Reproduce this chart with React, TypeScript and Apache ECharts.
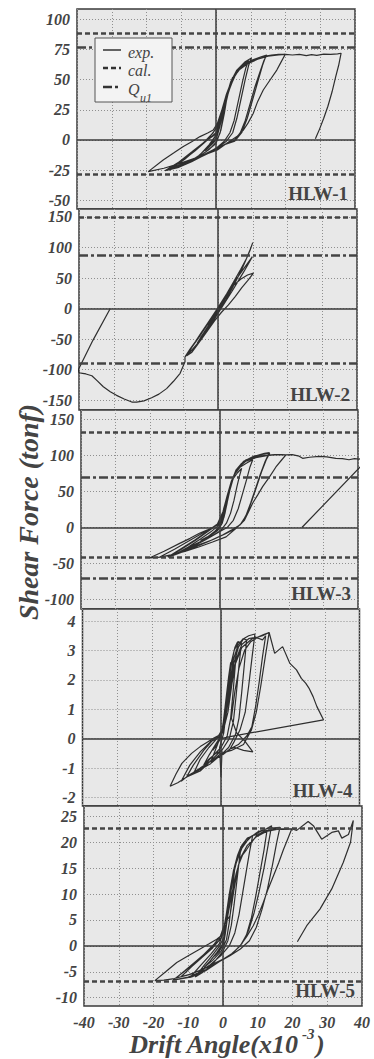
import React, { useEffect, useRef } from 'react';
import * as echarts from 'echarts';

// ---------- data ----------
const panelNames = ['HLW-1', 'HLW-2', 'HLW-3', 'HLW-4', 'HLW-5'];
const xTicks = [-40, -30, -20, -10, 0, 10, 20, 30, 40];

const yTicks1 = [-50, -25, 0, 25, 50, 75, 100];
const yTicks2 = [-150, -100, -50, 0, 50, 100, 150];
const yTicks3 = [-100, -50, 0, 50, 100, 150];
const yTicks4 = [-2, -1, 0, 1, 2, 3, 4];
const yTicks5 = [-10, -5, 0, 5, 10, 15, 20, 25];

const yRange1 = [-57.3, 108.7];
const yRange2 = [-166, 163];
const yRange3 = [-113, 163];
const yRange4 = [-2.29, 4.41];
const yRange5 = [-11.6, 27];

// calculated strength (dashed) and Q_u1 (dash-dot) levels
const cal1 = [88.8, -28.2];
const qu1 = [76.6];
const cal2 = [149.5];
const qu2 = [87.7, -89.8];
const cal3 = [131.7, -41.9];
const qu3 = [69.2, -69.7];
const cal4: number[] = [];
const qu4: number[] = [];
const cal5 = [22.7, -6.8];
const qu5: number[] = [];

const exp1 = [
  [0, 0], [0.8, 8], [1.6, 18], [2.4, 28], [1.8, 22], [1, 12], [0.4, 4], [-0.6, -2], [-2, -6], [-3.2, -9], [-2.4, -7], [-1.2, -3], [0, 1],
  [1, 10], [2.2, 24], [3.2, 36], [4.2, 46], [3.6, 40], [2.8, 30], [2, 18], [1.2, 6], [0, -2], [-2, -8], [-4.5, -13], [-6.5, -16], [-5, -13], [-3, -8], [-1.2, -2], [0.2, 5],
  [1.4, 16], [2.6, 30], [3.8, 44], [4.8, 52], [4, 46], [3.2, 36], [2.4, 22], [1.4, 8], [0, -3], [-3, -10], [-6.8, -17], [-4.5, -12], [-2, -4], [0, 4],
  [1.5, 18], [3, 36], [4.6, 50], [6.2, 58], [8, 63], [9.4, 66], [8.6, 60], [7.6, 48], [6.4, 32], [5.2, 16], [4, 6], [2.4, -1], [0.4, -6], [-3, -12], [-7, -18], [-11, -23], [-14.7, -25.5], [-12, -21], [-8, -13], [-4.6, -5], [-2, 1], [0, 6],
  [1.4, 18], [2.8, 34], [4.2, 48], [6, 58], [8.4, 65], [10.2, 68], [9.4, 62], [8.4, 50], [7.2, 34], [6, 18], [4.8, 6], [3, -1], [0.6, -6], [-4, -13], [-9, -20], [-14, -25], [-10, -18], [-6, -9], [-2.5, 0], [0, 5],
  [1.4, 18], [2.8, 32], [4.2, 45], [5.6, 54], [7.2, 60], [9.2, 64], [11.2, 67], [13, 69], [14.6, 70.5], [13.8, 66], [12.6, 56], [11.2, 44], [9.8, 30], [8.4, 16], [7, 6], [5.4, 0], [3, -3], [0.4, -7], [-4, -13], [-9, -19], [-14.7, -25.5], [-11, -19], [-7, -10], [-3.5, -2], [-0.8, 6], [0.4, 12],
  [2, 26], [3.6, 40], [5.2, 52], [7, 60], [9.4, 65], [12, 68], [14.4, 70], [13.4, 62], [12, 48], [10.6, 34], [9, 18], [7.4, 6], [5.4, -1], [2.4, -4], [0, -8], [-5, -15], [-10, -21], [-13.5, -25],
  [-9, -16], [-5, -6], [-2, 2], [0.2, 10],
  [1.8, 24], [3.4, 40], [5, 52], [7, 60], [10, 66], [13, 69], [16, 70.5], [18, 71], [19.9, 71], [18.6, 64], [17.5, 58], [15.6, 50], [13.6, 41.5], [12, 32], [10.7, 22], [9.2, 14], [7.9, 8.3], [6, 2.8], [3.1, -2.8], [0.4, -8.3], [-3, -12], [-7, -16], [-11, -20], [-15, -23.5], [-19.5, -26.3],
  [-15.2, -16.6], [-12, -10.5], [-9.4, -5.5], [-7, -1.5], [-4.6, 2.8], [-2.4, 5.8], [-0.8, 8.3], [0.4, 13.8], [1.6, 24], [3, 38], [4.6, 50], [6.6, 58], [9, 63], [12, 67], [15, 69.5], [18, 70.5], [20, 71],
  [22, 70.5], [24, 71], [26, 70], [27.5, 70.8], [29, 70.2], [31, 71.2], [33, 71], [35, 71.5], [36, 72], [35.3, 62], [34.4, 52], [33.4, 40], [32.2, 28], [31, 18], [29.8, 9], [28.6, 1],
];

const exp2 = [
  [0, 0], [1, 8], [2, 18], [3, 27], [2, 18], [1, 8], [0, -2], [-1, -10], [-2, -19], [-3, -27], [-2, -19], [-1, -10], [0, 0],
  [1.5, 14], [3, 28], [4.5, 40], [3.5, 30], [2, 16], [0.5, 2], [-1, -12], [-2.5, -26], [-4, -39], [-5, -47], [-3.5, -35], [-2, -20], [-0.5, -6], [1, 8],
  [2.5, 22], [4, 36], [5.5, 50], [4.2, 38], [2.8, 24], [1.2, 8], [-0.5, -8], [-2.5, -26], [-4.5, -44], [-6, -57], [-4.8, -46], [-3, -30], [-1.2, -13], [0.6, 4],
  [2.5, 22], [4.5, 38], [6.5, 48], [8.5, 55], [10.2, 58], [8.6, 46], [6.8, 34], [5, 20], [3, 6], [1, -6], [-1, -20], [-3, -36], [-5, -52], [-7, -66], [-8.5, -73], [-9.5, -79],
  [-8, -66], [-6.5, -54], [-5, -41], [-3, -24], [-1, -7], [1, 10], [3, 28], [5, 46], [7, 62], [8.5, 74], [9.9, 85], [8.8, 74], [7.4, 60], [5.8, 45], [4, 28], [2, 10], [0, -8], [-2, -26], [-4, -44], [-6, -60], [-7.6, -72], [-9, -77],
  [-7.5, -63], [-5.5, -47], [-3.5, -30], [-1.5, -12], [0.5, 6], [2.5, 24], [4.5, 44], [6.5, 64], [8.2, 82], [9.2, 95], [10, 108], [9.2, 96], [8.2, 82], [7, 66], [5.6, 50], [4, 32], [2.2, 14], [0.2, -4], [-2, -24], [-4, -42], [-6, -58], [-8, -71], [-9.5, -79],
  [-9.5, -87], [-10.9, -106], [-12.8, -119], [-14.8, -131], [-17, -140], [-19.1, -146], [-21.3, -151], [-23.4, -153], [-24.8, -153], [-27, -148], [-29.2, -142], [-31, -136], [-33, -128], [-34.8, -118], [-36.3, -110], [-38, -107], [-39, -106], [-40, -105],
  [-40.2, -100], [-36, -52], [-31, 0],
];

const exp3 = [
  [0, 0], [0.6, 10], [1.2, 24], [1.8, 36], [1.2, 26], [0.6, 12], [0, 2], [-1, -5], [-2.5, -10], [-1.6, -7], [-0.6, -3], [0.2, 2],
  [1, 16], [1.8, 34], [2.6, 50], [3.4, 62], [2.8, 52], [2.2, 36], [1.6, 20], [0.8, 6], [-0.5, -4], [-3, -12], [-5.5, -18], [-3.5, -13], [-1.5, -6], [0.2, 3],
  [1, 18], [2, 38], [3, 56], [4, 68], [5.2, 76], [6.4, 82], [5.8, 72], [5, 56], [4.2, 38], [3.2, 20], [2, 6], [0.4, -4], [-3, -14], [-6.5, -22], [-10, -30], [-12, -35], [-9, -27], [-5.5, -16], [-2.5, -6], [0, 4],
  [1.2, 22], [2.2, 42], [3.2, 60], [4.4, 74], [6, 84], [8, 90], [9.6, 94], [8.8, 84], [7.8, 66], [6.6, 46], [5.4, 26], [4, 10], [2.2, 0], [0, -6], [-4, -17], [-8, -27], [-12, -35], [-14.9, -41], [-11, -30], [-7, -18], [-3.5, -6], [-0.6, 4],
  [0.8, 18], [2, 40], [3.2, 60], [4.6, 76], [6.4, 88], [8.8, 96], [11, 100], [13, 103], [14.4, 104], [13.2, 92], [11.8, 74], [10.4, 54], [9, 34], [7.6, 16], [6, 4], [3.6, -3], [1, -10], [-3, -19], [-8, -29], [-13, -38], [-14.9, -41],
  [-11, -29], [-7, -17], [-3.5, -5], [-0.6, 5], [1, 22], [2.2, 44], [3.4, 64], [5, 80], [7, 92], [10, 99], [13, 102], [14.5, 103], [13.5, 94], [12.2, 78], [10.8, 58], [9.4, 38], [8, 20], [6.4, 6], [4.4, -2], [1.6, -9], [-2, -17],
  [-6, -24], [-10, -32], [-14, -38], [-17, -41], [-20.1, -42], [-16, -33], [-11.5, -22], [-8.5, -15], [-5.8, -8], [-3.4, -3], [-1.2, 2], [0, 5], [1.3, 14], [2.2, 34], [2.9, 52], [3.8, 68], [4.8, 80], [6.2, 88], [7.7, 94], [10.6, 98], [13, 100], [16, 101], [19.2, 100.7],
  [18, 94], [16.3, 84], [14.4, 70], [12.5, 57], [11, 45], [9.6, 34], [8.4, 22], [7.2, 10], [4.8, -1], [1.9, -13], [-2, -20], [-6, -27], [-10, -33], [-14, -38], [-17.5, -41.5],
  [-13, -30], [-9, -19], [-5, -8], [-1.5, 1], [0.8, 10], [2, 30], [3, 52], [4.2, 72], [5.6, 84], [7.6, 92], [10.5, 97], [14, 100], [17, 101], [19.2, 100.7],
  [21, 101], [23, 99], [24, 96], [26, 97.5], [28.8, 98.6], [31, 98], [33.6, 96], [35.5, 95.5], [37.4, 94], [39, 95.5], [40.3, 95], [43, 96], [23.8, 0],
];

const exp4 = [
  [0, 0], [0.6, 0.5], [1.2, 1.1], [0.7, 0.6], [0.1, 0.1], [-1.2, -0.2], [-2.4, -0.4], [-1.4, -0.25], [-0.4, -0.05],
  [0.6, 0.5], [1.4, 1.3], [2.2, 2.1], [2.8, 2.6], [2.3, 1.9], [1.6, 1.0], [0.8, 0.2], [-0.4, -0.3], [0, -1.3], [0.3, -0.4], [-1.5, -0.5], [-3.5, -0.7], [-5, -0.9], [-3.4, -0.55], [-1.6, -0.2], [0, 0.1],
  [1, 0.8], [2, 1.8], [3, 2.6], [4, 3.1], [4.8, 3.3], [4.2, 2.6], [3.5, 1.6], [2.8, 0.7], [1.8, 0.1], [0, -0.3], [-2.5, -0.6], [-5.5, -1.0], [-8, -1.2], [-6, -0.7], [-3.5, -0.3], [-1.2, 0], [0.8, 0.4],
  [1.8, 1.4], [2.8, 2.4], [3.8, 3.0], [5, 3.3], [5.9, 3.24], [5.2, 2.5], [4.4, 1.5], [3.6, 0.6], [2.4, 0], [0.5, -0.35], [-2.5, -0.7], [-6, -1.1], [-9.9, -1.3], [-11.5, -1.45], [-9, -0.9], [-6, -0.45], [-3, -0.1], [-0.5, 0.05],
  [1.2, 0.6], [2.4, 1.8], [3.6, 2.7], [5, 3.2], [6.4, 3.4], [7.4, 3.36], [6.8, 2.6], [6, 1.6], [5.2, 0.7], [4.2, 0.15], [2.2, -0.3], [0, -0.55], [-3, -0.85], [-6, -1.05], [-9.9, -1.3], [-12.5, -1.5], [-14.7, -1.62], [-13, -1.2], [-11.3, -0.84], [-8.5, -0.5], [-6, -0.27], [-4, -0.12], [-2.2, 0.01],
  [0, 0.15], [1.4, 0.8], [2.6, 1.8], [3.8, 2.6], [5, 3.1], [6.5, 3.4], [8, 3.5], [9.8, 3.56], [9, 2.8], [8, 1.8], [7, 0.9], [5.5, 0.3], [3.8, -0.1], [2.6, -0.35], [0.5, -0.55], [-2, -0.7], [-4.1, -0.84], [-6, -1.0], [-8, -1.15], [-9.9, -1.29], [-8, -0.9], [-5, -0.4], [-2, 0],
  [0.5, 0.2], [2, 0.9], [3.2, 1.9], [4.4, 2.7], [6, 3.2], [8, 3.4], [10, 3.45], [12, 3.36], [12.9, 3.5], [12, 2.8], [11, 1.9], [10, 1.1], [8.9, 0.4], [7.5, 0.1], [5, -0.2],
  [2.6, -0.35], [4, -0.3], [6.5, -0.4], [9.2, -0.45], [7, -0.1], [4.5, 0.2], [3, 0.7], [4, 1.6], [5.2, 2.4], [6.8, 3], [8.6, 3.3], [10.5, 3.45], [12.5, 3.55], [13.9, 3.61],
  [12.8, 2.8], [11.5, 1.8], [10.2, 0.9], [8.8, 0.3], [6.5, -0.2], [3, -0.4], [0, -0.5], [-3, -0.8], [-1, -0.2], [1, 0.5], [2.6, 1.6], [4, 2.5], [6, 3.1], [9, 3.4], [12, 3.5], [13.9, 3.61],
  [15.5, 2.9], [17.8, 3.13], [19.9, 2.56], [21.8, 2.34], [23.2, 2.05], [24.5, 1.88], [25.5, 1.7], [26.6, 1.43], [27.7, 1.09], [29.6, 0.64], [2.6, 0.07], [0, 0],
];

const exp5 = [
  [0, 0], [0.5, 2], [1, 4.5], [1.6, 7], [1.2, 5], [0.7, 2.5], [0.2, 0.5], [-1, -1], [-2.5, -2], [-1.5, -1.3], [-0.4, -0.3],
  [0.6, 2.5], [1.3, 6], [2, 9.5], [2.7, 12.5], [3.3, 14.5], [2.9, 11.5], [2.4, 8], [1.8, 4.5], [1, 1.2], [-0.5, -1], [-3, -2.8], [-5.5, -4.2], [-3.8, -3], [-1.8, -1.3], [0, 0.5],
  [0.8, 3.5], [1.6, 8], [2.4, 12], [3.2, 15], [4.2, 17.5], [5.2, 19.2], [4.6, 16], [3.9, 12], [3.2, 8], [2.4, 4], [1.4, 1], [0, -1], [-3, -3.5], [-6, -5.2], [-8, -6], [-5.5, -3.8], [-3, -1.8], [-1, 0], [0.5, 2],
  [1.4, 6], [2.2, 10], [3, 14], [4, 17], [5.4, 19.4], [7, 20.8], [8.5, 21.2], [7.6, 18], [6.6, 14], [5.6, 10], [4.6, 6], [3.4, 2.5], [1.8, 0], [-0.5, -1.8], [-4, -3.8], [-7.5, -5.4], [-9.5, -6.1], [-6.5, -3.8], [-3.5, -1.6], [-1, 0.5],
  [0.8, 4], [1.8, 9], [2.8, 13.5], [3.8, 16.5], [5, 18.8], [6.8, 20.6], [8.5, 21.3], [10, 21.5], [12.6, 22], [11.8, 18.5], [10.6, 14], [9.4, 9.5], [8.2, 5.5], [6.8, 2.2], [5, 0], [2.5, -1.5], [-1, -3], [-5, -4.8], [-9, -6], [-14.3, -6.6], [-11, -4.8], [-7.5, -2.8], [-4, -0.8], [-1.2, 1],
  [0.6, 4.5], [1.8, 10], [3, 14.5], [4.4, 17.5], [6, 19.6], [8, 21], [10.5, 22], [12.5, 22.6], [14, 23.2], [13, 19.5], [11.8, 15], [10.4, 10.5], [9, 6.5], [7.4, 3], [5.5, 0.5], [3, -1.3], [-0.5, -2.8], [-5, -4.6], [-10, -6], [-14.3, -6.6],
  [-10, -4.3], [-6, -2], [-2.5, 0.4], [0, 2.5], [1.2, 7], [2.4, 12], [3.8, 16], [5.4, 18.8], [7.5, 20.8], [10, 22], [13, 22.7], [16.4, 22.9], [15.4, 19.8], [14.2, 15.5], [12.8, 11], [11.2, 7], [9.6, 3.6], [7.6, 1], [5, -0.6], [2, -1.9], [-2, -3.2], [-6, -4.6], [-10, -5.6], [-14, -6.3], [-17, -6.6], [-19.6, -6.7],
  [-16.5, -5], [-13.3, -3.2], [-10, -1.9], [-6.6, -0.6], [-4, 0.4], [-1.8, 1.3], [0.1, 2.3], [1.2, 5], [2, 5.8], [3.2, 11], [4.4, 15.5], [5.6, 17.5], [6.8, 18.6], [8.2, 20], [9.7, 21.3], [12, 22.2], [15, 22.6], [17.5, 22.6], [19.8, 22.6],
  [18.6, 20.6], [17.4, 18.6], [16, 16], [14.5, 13.5], [13, 11], [11.6, 8.4], [10.2, 6], [8.7, 3.9], [6.8, 1.8], [4.9, 0], [2, -1.9], [-1, -3], [-4, -3.9], [-7, -4.8], [-9.5, -5.5], [-12, -5.9],
  [-9, -4], [-6, -2.2], [-3, -0.4], [-0.5, 1.5], [1, 4.5], [2.4, 9.5], [3.8, 14], [5.2, 17.2], [7, 19.4], [9.5, 21], [12.5, 22.1], [15.5, 22.5], [18, 22.5], [19.8, 22.6],
  [21.2, 22.3], [24.5, 24], [26, 23.2], [28.4, 20.6], [31.3, 21.9], [33.2, 22.2], [34.2, 20.8], [36.1, 21.5], [37.5, 24.2],
  [36.7, 20], [34.6, 16.1], [31.3, 11], [27.9, 7.1], [24.1, 3.9], [21.4, 0.8],
];

const expData = [exp1, exp2, exp3, exp4, exp5];
const yTicks = [yTicks1, yTicks2, yTicks3, yTicks4, yTicks5];
const yRanges = [yRange1, yRange2, yRange3, yRange4, yRange5];
const calData = [cal1, cal2, cal3, cal4, cal5];
const quData = [qu1, qu2, qu3, qu4, qu5];

// ---------- layout / style ----------
const layouts = [
  { left: 77, top: 9, width: 278, height: 200 },
  { left: 79, top: 209, width: 278, height: 201 },
  { left: 81, top: 410, width: 277, height: 199 },
  { left: 82.5, top: 609, width: 277, height: 197 },
  { left: 84, top: 806, width: 278, height: 200 },
];

const SERIF = "'Liberation Serif', 'DejaVu Serif', serif";
const INK = '#2e2e2e';
const LABEL = '#444444';
const CAL_DASH = [5, 3];
const QU_DASH = [9, 3, 3, 3];

export default function App() {
  const ref = useRef<HTMLDivElement>(null);

  useEffect(() => {
    if (!ref.current) return;
    const chart = echarts.init(ref.current, undefined, { renderer: 'svg' });

    const grid = layouts.map((l) => ({
      left: l.left,
      top: l.top,
      width: l.width,
      height: l.height,
      show: true,
      backgroundColor: '#e8e8e8',
      borderColor: '#3a3a3a',
      borderWidth: 1.5,
      containLabel: false,
    }));

    const xAxis = layouts.map((_, i) => ({
      type: 'value',
      gridIndex: i,
      min: xTicks[0],
      max: xTicks[xTicks.length - 1],
      interval: 10,
      axisLine: { show: false },
      axisTick: { show: false },
      axisLabel: {
        show: i === 4,
        margin: 8,
        color: LABEL,
        fontFamily: SERIF,
        fontWeight: 'bold',
        fontStyle: 'italic',
        fontSize: 16,
      },
      splitLine: { show: true, lineStyle: { color: '#8f8f8f', width: 1, type: [1, 2] } },
    }));

    const yAxis = layouts.map((_, i) => ({
      type: 'value',
      gridIndex: i,
      min: yRanges[i][0],
      max: yRanges[i][1],
      axisLine: { show: false },
      axisTick: { show: false, customValues: yTicks[i] },
      axisLabel: {
        customValues: yTicks[i],
        margin: 7,
        color: LABEL,
        fontFamily: SERIF,
        fontWeight: 'bold',
        fontStyle: 'italic',
        fontSize: 16,
        padding: [5, 0, 0, 0],
      },
      splitLine: { show: true, lineStyle: { color: '#8f8f8f', width: 1, type: [1, 2] } },
    }));

    const series = layouts.map((_, i) => ({
      type: 'line',
      name: 'exp.',
      xAxisIndex: i,
      yAxisIndex: i,
      data: expData[i],
      showSymbol: false,
      symbol: 'none',
      clip: true,
      silent: true,
      lineStyle: { color: INK, width: 1.2 },
      z: 3,
      markLine: {
        silent: true,
        symbol: ['none', 'none'],
        label: { show: false },
        animation: false,
        data: [
          { xAxis: 0, lineStyle: { type: 'solid', width: 1.5, color: '#3a3a3a' } },
          { yAxis: 0, lineStyle: { type: 'solid', width: 1.5, color: '#3a3a3a' } },
          ...calData[i].map((v) => ({ yAxis: v, lineStyle: { type: CAL_DASH, width: 2.5, color: '#444' } })),
          ...quData[i].map((v) => ({ yAxis: v, lineStyle: { type: QU_DASH, width: 2.5, color: '#444' } })),
        ],
      },
    }));

    const textStyle = (extra: any) => ({
      fontFamily: SERIF,
      fill: LABEL,
      ...extra,
    });

    const graphic: any[] = [];
    // panel names
    layouts.forEach((l, i) => {
      graphic.push({
        type: 'text',
        x: l.left + l.width - 7,
        y: l.top + l.height - 16,
        z: 10,
        style: textStyle({
          text: panelNames[i],
          fontSize: 19,
          fontWeight: 'bold',
          align: 'right',
          verticalAlign: 'middle',
          textAlign: 'right',
          textVerticalAlign: 'middle',
        }),
      });
    });

    // legend
    const lx = 95, ly = 38;
    graphic.push({
      type: 'rect',
      z: 10,
      shape: { x: lx, y: ly, width: 77, height: 64 },
      style: { fill: '#f3f3f3', stroke: '#555', lineWidth: 1 },
    });
    const legendRows = [
      { label: 'exp.', dash: null as any, y: ly + 12 },
      { label: 'cal.', dash: CAL_DASH, y: ly + 30 },
      { label: 'Q', dash: QU_DASH, y: ly + 49 },
    ];
    legendRows.forEach((r) => {
      graphic.push({
        type: 'line',
        z: 11,
        shape: { x1: lx + 8, y1: r.y, x2: lx + 26, y2: r.y },
        style: { stroke: '#333', lineWidth: r.dash ? 2.5 : 1.5, lineDash: r.dash || undefined },
      });
      graphic.push({
        type: 'text',
        z: 11,
        x: lx + 33,
        y: r.y + 2,
        style: textStyle({
          text: r.label,
          fontSize: 16,
          fontStyle: 'italic',
          align: 'left',
          verticalAlign: 'middle',
          textAlign: 'left',
          textVerticalAlign: 'middle',
        }),
      });
    });
    graphic.push({
      type: 'text',
      z: 11,
      x: lx + 45,
      y: ly + 60,
      style: textStyle({
        text: 'u1',
        fontSize: 12,
        fontStyle: 'italic',
        align: 'left',
        verticalAlign: 'middle',
        textAlign: 'left',
        textVerticalAlign: 'middle',
      }),
    });

    // y axis title
    graphic.push({
      type: 'text',
      x: 28,
      y: 512,
      rotation: Math.PI / 2,
      style: textStyle({
        text: 'Shear Force (tonf)',
        fontSize: 28,
        fontWeight: 'bold',
        fontStyle: 'italic',
        align: 'center',
        verticalAlign: 'middle',
        textAlign: 'center',
        textVerticalAlign: 'middle',
      }),
    });

    // x axis title with superscript
    graphic.push({
      type: 'text',
      x: 298,
      y: 1044,
      style: textStyle({
        text: 'Drift Angle(x10',
        fontSize: 26,
        fontWeight: 'bold',
        fontStyle: 'italic',
        align: 'right',
        verticalAlign: 'middle',
        textAlign: 'right',
        textVerticalAlign: 'middle',
      }),
    });
    graphic.push({
      type: 'text',
      x: 302,
      y: 1034,
      style: textStyle({
        text: '-3',
        fontSize: 15,
        fontWeight: 'bold',
        fontStyle: 'italic',
        align: 'left',
        verticalAlign: 'middle',
        textAlign: 'left',
        textVerticalAlign: 'middle',
      }),
    });
    graphic.push({
      type: 'text',
      x: 316,
      y: 1044,
      style: textStyle({
        text: ')',
        fontSize: 26,
        fontWeight: 'bold',
        fontStyle: 'italic',
        align: 'left',
        verticalAlign: 'middle',
        textAlign: 'left',
        textVerticalAlign: 'middle',
      }),
    });

    chart.setOption({
      animation: false,
      backgroundColor: '#ffffff',
      grid,
      xAxis,
      yAxis,
      series,
      graphic,
    } as any);

    return () => chart.dispose();
  }, []);

  return (
    <div
      ref={ref}
      style={{ position: 'absolute', left: 0, top: 0, width: 374, height: 1059 }}
    />
  );
}
